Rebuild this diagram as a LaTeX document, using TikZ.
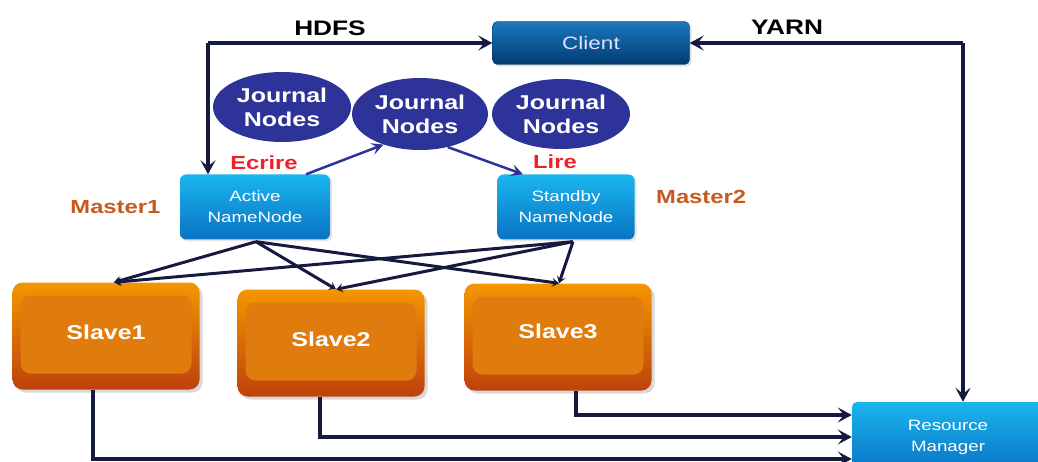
\documentclass[tikz,border=0pt]{standalone}
\usepackage{fontspec}
\setmainfont[FakeStretch=1.25]{Liberation Sans}
\usepackage{xcolor}
\definecolor{LineNavy}{HTML}{161A40}
\definecolor{JournalBlue}{HTML}{2E3399}
\definecolor{ClientTop}{HTML}{1C78BE}
\definecolor{ClientBot}{HTML}{003B72}
\definecolor{NodeTop}{HTML}{19B6EE}
\definecolor{NodeBot}{HTML}{0A72C4}
\definecolor{SlaveTop}{HTML}{F39600}
\definecolor{SlaveBot}{HTML}{BE420C}
\definecolor{SlaveInner}{HTML}{E07C0E}
\definecolor{MasterOrange}{HTML}{C65A1E}
\definecolor{EcrireRed}{HTML}{F0202A}
\usetikzlibrary{shapes.geometric, arrows.meta, positioning, shadows}
\tikzstyle{clientbox} = [rectangle, rounded corners=5pt, top color=ClientTop, bottom color=ClientBot, draw=ClientBot!80!black, minimum width=197pt, minimum height=43pt, text=white!88!blue, font=\fontsize{18}{21}\selectfont, drop shadow={opacity=0.25, shadow xshift=2pt, shadow yshift=-2pt}]
\tikzstyle{namebox} = [rectangle, rounded corners=6pt, top color=NodeTop, bottom color=NodeBot, text=white, align=center, font=\fontsize{15}{21}\selectfont, drop shadow={opacity=0.2, shadow xshift=2pt, shadow yshift=-2pt}]
\tikzstyle{journal} = [ellipse, fill=JournalBlue, minimum width=138pt, minimum height=70pt, inner sep=0pt, text=white, align=center, font=\bfseries\fontsize{20}{24}\selectfont]
\tikzstyle{slave} = [rectangle, rounded corners=10pt, top color=SlaveTop, bottom color=SlaveBot, minimum width=187pt, minimum height=107pt, text=white, font=\bfseries\fontsize{20}{24}\selectfont, drop shadow={opacity=0.3, shadow xshift=3pt, shadow yshift=-3pt},
  path picture={\fill[SlaveInner] ([xshift=8pt,yshift=-13pt]path picture bounding box.north west) rectangle ([xshift=-8pt,yshift=16pt]path picture bounding box.south east);}]
\tikzstyle{tag} = [font=\bfseries\fontsize{21}{24}\selectfont, text=black]
\tikzstyle{master} = [font=\bfseries\fontsize{19}{20}\selectfont, text=MasterOrange]
\tikzstyle{rw} = [font=\bfseries\fontsize{19}{20}\selectfont, text=EcrireRed]
\tikzstyle{arrow} = [line width=3.5pt, draw=LineNavy, -{Stealth[length=14pt, width=15pt, inset=6pt]}]
\tikzstyle{link} = [line width=3pt, draw=LineNavy, -{Stealth[length=7pt, width=9pt, inset=3pt]}]
\tikzstyle{jarrow} = [line width=2.5pt, draw=JournalBlue, -{Stealth[length=12pt, width=12pt, inset=5pt]}]

\begin{document}
\begin{tikzpicture}[x=1pt, y=-1pt]
  \useasboundingbox (0,0) rectangle (1038,462);
  \node (client) [clientbox] at (591,43) {Client};
  \node (hdfs) [tag] at (330,28) {HDFS};
  \node (yarn) [tag] at (787,27) {YARN};
  \node (journal1) [journal] at (282,107) {Journal\\Nodes};
  \node (journal2) [journal, minimum width=136pt, minimum height=72pt] at (420,114) {Journal\\Nodes};
  \node (journal3) [journal] at (561,114) {Journal\\Nodes};
  \node (active) [namebox, minimum width=150pt, minimum height=65pt] at (255,207) {Active\\NameNode};
  \node (standby) [namebox, minimum width=137pt, minimum height=65pt] at (566,207) {Standby\\NameNode};
  \node (master1) [master, left=16pt of active] {Master1};
  \node (master2) [master, right=18pt of standby, yshift=10pt] {Master2};
  \node (ecrire) [rw] at (264,163) {Ecrire};
  \node (lire) [rw] at (555,162) {Lire};
  \node (slave1) [slave] at (106,336) {\raisebox{7pt}{Slave1}};
  \node (slave2) [slave] at (331,343) {\raisebox{8pt}{Slave2}};
  \node (slave3) [slave] at (558,337) {\raisebox{11pt}{Slave3}};
  \node (rm) [namebox, minimum width=192pt, minimum height=70pt, rounded corners=5pt] at (948,437) {Resource\\Manager};
  \coordinate (hdfscorner) at (208,43);
  \coordinate (yarncorner) at (963,43);

  \draw [arrow] (hdfscorner) -- (client.west);
  \draw [arrow] (hdfscorner) -- (hdfscorner |- active.north);
  \draw [arrow] (yarncorner) -- (client.east);
  \draw [arrow] (yarncorner) -- (yarncorner |- rm.north);
  \draw [jarrow] ([xshift=51pt]active.north) -- (journal2.220);
  \draw [jarrow] (journal2.310) -- ([xshift=-43pt]standby.north);
  \foreach \src/\dx in {active/1pt, standby/7pt}{
    \draw [link] ([xshift=\dx,yshift=-2pt]\src.south) -- ([xshift=8pt]slave1.north);
    \draw [link] ([xshift=\dx,yshift=-2pt]\src.south) -- ([xshift=5pt]slave2.north);
    \draw [link] ([xshift=\dx,yshift=-2pt]\src.south) -- ([xshift=1pt]slave3.north);
  }
  \draw [arrow] ([xshift=-13pt]slave1.south) |- ([yshift=-22pt]rm.west);
  \draw [arrow] ([xshift=-11pt]slave2.south) |- (rm.west);
  \draw [arrow] ([xshift=18pt]slave3.south) |- ([yshift=22pt]rm.west);
\end{tikzpicture}
\end{document}
